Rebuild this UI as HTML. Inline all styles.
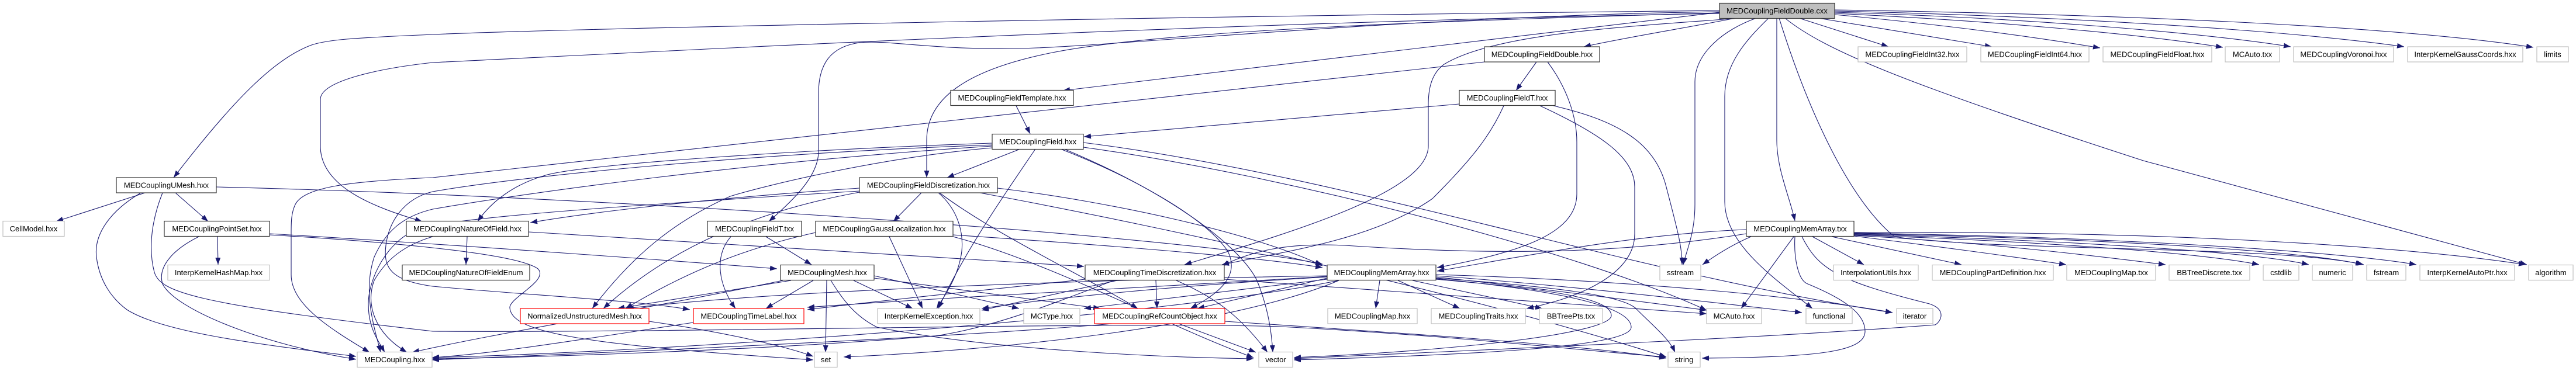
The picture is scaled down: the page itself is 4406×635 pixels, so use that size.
<!DOCTYPE html>
<html>
<head>
<meta charset="utf-8">
<style>
html,body{margin:0;padding:0;background:#fff;}
svg{display:block;}
text{font-family:"Liberation Sans",Arial,sans-serif;font-size:13px;fill:#000;text-anchor:middle;}
.e{fill:none;stroke:#191970;stroke-width:1.1;marker-end:url(#a);}
.n{fill:#fff;stroke:#333;stroke-width:1.2;}
.g{fill:#fff;stroke:#bfbfbf;stroke-width:1.2;}
.r{fill:#fff;stroke:#ff0000;stroke-width:1.2;}
.t{fill:#bfbfbf;stroke:#333;stroke-width:1.2;}
</style>
</head>
<body>
<svg width="4406" height="635" viewBox="0 0 4406 635" xmlns="http://www.w3.org/2000/svg">
<defs>
<marker id="a" markerWidth="12" markerHeight="9" refX="12" refY="4.5" orient="auto" markerUnits="userSpaceOnUse">
<path d="M0,0 L12,4.5 L0,9 z" fill="#191970"/>
</marker>
</defs>
<rect width="4406" height="635" fill="#fff"/>
<g>
<!-- FD_CXX edges -->
<path class="e" d="M2968,31 C2900,45 2780,64 2709,80"/>
<path class="e" d="M3077,31 L3230,80"/>
<path class="e" d="M3110,31 L3407,80"/>
<path class="e" d="M3138,25 C3300,40 3460,60 3592,82"/>
<path class="e" d="M3138,23 C3400,35 3660,58 3802,81"/>
<path class="e" d="M3138,21 C3450,30 3760,55 3918,80"/>
<path class="e" d="M3138,19 C3500,27 3900,50 4112,80"/>
<path class="e" d="M3138,17 C3650,25 4100,45 4333,81"/>
<path class="e" d="M3039,31 L3039,240 C3039,290 3062,340 3070,378"/>
<path class="e" d="M3025,31 C2985,70 2950,110 2950,165 L2950,345 C2950,420 3040,480 3100,528"/>
<path class="e" d="M3004,31 C2950,50 2899,90 2899,140 L2899,350 C2899,400 2884,430 2879,453"/>
<path class="e" d="M2975,31 C2800,45 2560,55 2470,110 C2445,128 2443,160 2443,180 L2443,250 C2443,330 2200,400 2026,453"/>
<path class="e" d="M3053,31 C3120,85 3250,140 3666,275 L4322,453"/>
<path class="e" d="M3043,31 C3080,150 3150,330 3240,405 C3400,430 3900,420 4043,453"/>
<path class="e" d="M2941,18 C2000,28 1000,48 740,59 C600,65 560,68 533,77 C470,100 400,170 297,304"/>
<path class="e" d="M2941,23 C2000,40 1100,90 740,107 C640,118 548,140 548,170 L548,250 C548,320 640,355 722,379"/>
<path class="e" d="M2941,20 C2400,28 1900,80 1743,83 C1600,86 1520,68 1470,73 C1420,80 1400,110 1400,160 L1400,259 C1400,300 1360,340 1315,379"/>
<path class="e" d="M2941,21 L1818,155"/>
<path class="e" d="M2941,22 C2500,35 2000,50 1800,90 C1650,120 1585,170 1585,240 L1585,304"/>
<!-- FieldDouble.hxx -->
<path class="e" d="M2628,106 L2593,155"/>
<path class="e" d="M2647,106 C2680,150 2697,200 2697,243 L2697,332 C2697,400 2600,432 2458,458"/>
<path class="e" d="M2539,106 L740,304 C600,310 520,320 505,350 C498,365 498,380 498,400 L498,470 C498,520 560,560 632,603"/>
<!-- FieldTemplate -->
<path class="e" d="M1738,181 L1762,229"/>
<!-- FieldT.hxx -->
<path class="e" d="M2496,178 L1854,234"/>
<path class="e" d="M2634,181 C2740,230 2796,270 2796,320 L2796,400 C2796,470 2700,510 2611,528"/>
<path class="e" d="M2657,181 C2760,205 2830,240 2850,320 C2868,390 2877,420 2877,453"/>
<path class="e" d="M2572,181 C2550,230 2520,270 2450,340 C2350,410 2200,430 2090,453"/>
<!-- Field.hxx -->
<path class="e" d="M1745,255 L1620,304"/>
<path class="e" d="M1697,245 C1400,255 1000,280 933,300 C880,315 840,345 817,379"/>
<path class="e" d="M1771,255 C1720,330 1650,430 1605,528"/>
<path class="e" d="M1814,255 C1930,300 2060,370 2100,430 C2120,470 2090,500 2036,528"/>
<path class="e" d="M1697,250 C1300,275 900,330 740,358 C690,370 660,395 640,440 C620,500 640,560 651,603"/>
<path class="e" d="M1697,248 C1300,262 900,300 740,328 C690,340 665,380 660,420 C655,460 670,480 740,490 C900,505 1100,515 1180,530"/>
<path class="e" d="M1697,253 C1500,270 1300,320 1249,336 C1150,380 1080,440 1013,528"/>
<path class="e" d="M1853,252 C2200,300 2700,430 2919,531"/>
<path class="e" d="M1853,244 C2300,300 2800,470 3237,535"/>
<path class="e" d="M1820,255 C2000,330 2120,420 2150,480 C2170,530 2175,570 2177,603"/>
<!-- FieldDiscretization -->
<path class="e" d="M1576,330 L1528,379"/>
<path class="e" d="M1470,322 C1200,340 1000,365 907,381"/>
<path class="e" d="M1605,330 C1640,360 1648,400 1645,430 C1640,470 1620,500 1602,528"/>
<path class="e" d="M1607,330 C1700,400 1850,470 1946,528"/>
<path class="e" d="M1470,327 C1100,350 800,370 720,390 C660,410 630,480 630,520 C630,560 645,580 658,603"/>
<path class="e" d="M1470,329 C1300,360 1150,420 1032,528"/>
<path class="e" d="M1706,322 C1900,345 2150,400 2262,455"/>
<path class="e" d="M1676,330 C2000,390 2500,500 2850,611"/>
<!-- GaussLocalization -->
<path class="e" d="M1521,405 L1578,528"/>
<path class="e" d="M1630,402 C1900,420 2150,440 2262,458"/>
<path class="e" d="M1395,398 C1250,430 1150,480 1070,528"/>
<path class="e" d="M1630,405 C1800,450 2000,560 2144,612"/>
<!-- MEDCouplingMesh -->
<path class="e" d="M1414,480 L1412,603"/>
<path class="e" d="M1391,480 L1310,528"/>
<path class="e" d="M1353,480 L1056,528"/>
<path class="e" d="M1339,480 C1100,530 850,570 705,603"/>
<path class="e" d="M1460,480 L1561,528"/>
<path class="e" d="M1495,472 L1743,528"/>
<path class="e" d="M1495,476 L1882,528"/>
<path class="e" d="M1421,480 C1440,510 1460,540 1500,560 C1700,600 2000,612 2144,614"/>
<!-- TimeDiscretization -->
<path class="e" d="M1977,480 L1979,528"/>
<path class="e" d="M1911,480 L1679,531"/>
<path class="e" d="M2012,480 C2080,510 2120,540 2168,603"/>
<path class="e" d="M1856,478 C1700,495 1500,515 1381,530"/>
<path class="e" d="M1905,480 C1800,520 1700,560 1600,575 C1300,600 900,612 739,614"/>
<path class="e" d="M2094,478 C2400,500 2700,520 2919,537"/>
<!-- FieldT.txx -->
<path class="e" d="M1310,405 L1388,453"/>
<path class="e" d="M1250,405 C1220,440 1230,490 1258,528"/>
<!-- NatureOfField -->
<path class="e" d="M799,405 L797,453"/>
<path class="e" d="M904,397 C1300,420 1700,445 1854,456"/>
<path class="e" d="M740,405 C690,420 660,445 640,480 C625,520 640,570 696,603"/>
<!-- PointSet -->
<path class="e" d="M372,405 L373,453"/>
<path class="e" d="M340,405 C290,430 270,460 278,486 C300,530 450,590 609,615"/>
<path class="e" d="M461,400 C800,420 1200,450 1329,460"/>
<path class="e" d="M461,402 C600,410 880,430 920,460 C940,480 870,510 872,527 C875,570 1000,590 1391,616"/>
<!-- UMesh -->
<path class="e" d="M248,330 L96,379"/>
<path class="e" d="M300,330 L356,379"/>
<path class="e" d="M241,330 C190,360 160,400 165,440 C170,480 190,510 217,530 C280,570 450,590 609,610"/>
<path class="e" d="M278,330 C262,370 252,420 264,466 C275,500 330,520 740,567 C1200,570 1900,550 2190,559 C2500,575 2700,600 2850,611"/>
<path class="e" d="M370,320 C1000,335 2000,400 2262,452"/>
<!-- MemArray.hxx -->
<path class="e" d="M2360,480 L2353,528"/>
<path class="e" d="M2391,480 L2497,528"/>
<path class="e" d="M2416,480 L2638,528"/>
<path class="e" d="M2270,478 L1854,528"/>
<path class="e" d="M2270,474 C2000,490 1800,510 1679,528"/>
<path class="e" d="M2270,476 L2048,528"/>
<path class="e" d="M2270,472 C1800,480 1300,500 1072,528"/>
<path class="e" d="M2270,473 C2000,490 1600,510 1381,526"/>
<path class="e" d="M2290,480 C2000,540 1200,600 739,612"/>
<path class="e" d="M2456,474 C2600,490 2800,515 2919,531"/>
<path class="e" d="M2456,476 C2650,490 2780,505 2800,530 C2830,560 2855,580 2865,603"/>
<path class="e" d="M2456,478 C2650,495 2756,510 2756,540 C2756,570 2500,600 2213,612"/>
<path class="e" d="M2456,472 C2700,490 2950,520 3082,535"/>
<path class="e" d="M2456,470 C2800,480 3100,510 3237,535"/>
<path class="e" d="M2290,480 C2100,560 1700,600 1443,611"/>
<path class="e" d="M2456,477 C2700,500 2790,530 2790,560 C2790,595 2500,608 2213,616"/>
<!-- MemArray.txx -->
<path class="e" d="M2987,393 C2800,400 2600,440 2458,464"/>
<path class="e" d="M3100,405 L3188,453"/>
<path class="e" d="M3133,405 L3355,453"/>
<path class="e" d="M3171,404 C3300,420 3450,440 3534,453"/>
<path class="e" d="M3171,403 C3400,415 3600,440 3704,453"/>
<path class="e" d="M3171,402 C3450,412 3750,430 3864,453"/>
<path class="e" d="M3171,401 C3500,410 3850,430 3949,453"/>
<path class="e" d="M3171,400 C3600,408 3950,430 4041,453"/>
<path class="e" d="M3171,399 C3600,405 4000,430 4133,453"/>
<path class="e" d="M3171,398 C3700,395 4100,420 4320,453"/>
<path class="e" d="M3068,405 L2978,528"/>
<path class="e" d="M3070,405 C3068,440 3075,480 3092,486 C3150,510 3190,535 3190,567 C3190,600 3120,612 2911,613"/>
<path class="e" d="M3082,405 C3110,460 3140,480 3300,520 C3330,530 3320,550 3310,556 C3000,580 2500,600 2213,614"/>
<path class="e" d="M2995,405 C2960,420 2930,440 2912,453"/>
<path class="e" d="M2987,400 C2800,430 2600,440 2300,420 C2200,415 2140,430 2090,455"/>
<!-- red nodes -->
<path class="e" d="M1186,552 C1000,580 850,605 739,612"/>
<path class="e" d="M2016,554 L2148,603"/>
<path class="e" d="M1903,554 C1600,580 1000,605 739,616"/>
<path class="e" d="M2095,550 C2400,570 2700,590 2850,613"/>
<path class="e" d="M1110,550 C1250,570 1350,595 1391,610"/>
</g>
<g>
<!-- Row 0 -->
<rect class="t" x="2941" y="5.5" width="197" height="26"/><text x="3039.5" y="23">MEDCouplingFieldDouble.cxx</text>
<!-- Row 1 -->
<rect class="n" x="2539" y="80" width="197" height="26"/><text x="2637.5" y="97.7">MEDCouplingFieldDouble.hxx</text>
<rect class="g" x="3178" y="80" width="186" height="26"/><text x="3271" y="97.7">MEDCouplingFieldInt32.hxx</text>
<rect class="g" x="3388" y="80" width="185" height="26"/><text x="3480.5" y="97.7">MEDCouplingFieldInt64.hxx</text>
<rect class="g" x="3597" y="80" width="186" height="26"/><text x="3690" y="97.7">MEDCouplingFieldFloat.hxx</text>
<rect class="g" x="3806" y="80" width="93" height="26"/><text x="3852.5" y="97.7">MCAuto.txx</text>
<rect class="g" x="3923" y="80" width="171" height="26"/><text x="4008.5" y="97.7">MEDCouplingVoronoi.hxx</text>
<rect class="g" x="4118" y="80" width="197" height="26"/><text x="4216.5" y="97.7">InterpKernelGaussCoords.hxx</text>
<rect class="g" x="4339" y="80" width="54" height="26"/><text x="4366" y="97.7">limits</text>
<!-- Row 2 -->
<rect class="n" x="1626" y="154.5" width="210" height="26"/><text x="1731" y="172.2">MEDCouplingFieldTemplate.hxx</text>
<rect class="n" x="2496" y="154.5" width="164" height="26"/><text x="2578" y="172.2">MEDCouplingFieldT.hxx</text>
<!-- Row 3 -->
<rect class="n" x="1697" y="229.5" width="156" height="26"/><text x="1775" y="247.2">MEDCouplingField.hxx</text>
<!-- Row 4 -->
<rect class="n" x="199" y="304" width="171" height="26"/><text x="284.5" y="321.7">MEDCouplingUMesh.hxx</text>
<rect class="n" x="1470" y="304" width="236" height="26"/><text x="1588" y="321.7">MEDCouplingFieldDiscretization.hxx</text>
<!-- Row 5 -->
<rect class="g" x="5" y="378.5" width="105" height="26"/><text x="57.5" y="396.2">CellModel.hxx</text>
<rect class="n" x="281" y="378.5" width="180" height="26"/><text x="371" y="396.2">MEDCouplingPointSet.hxx</text>
<rect class="n" x="695" y="378.5" width="209" height="26"/><text x="799.5" y="396.2">MEDCouplingNatureOfField.hxx</text>
<rect class="n" x="1210" y="378.5" width="161" height="26"/><text x="1290.5" y="396.2">MEDCouplingFieldT.txx</text>
<rect class="n" x="1395" y="378.5" width="235" height="26"/><text x="1512.5" y="396.2">MEDCouplingGaussLocalization.hxx</text>
<rect class="n" x="2987" y="378.5" width="184" height="26"/><text x="3079" y="396.2">MEDCouplingMemArray.txx</text>
<!-- Row 6 -->
<rect class="g" x="287" y="453.5" width="174" height="26"/><text x="374" y="471.2">InterpKernelHashMap.hxx</text>
<rect class="n" x="688" y="453.5" width="218" height="26"/><text x="797" y="471.2">MEDCouplingNatureOfFieldEnum</text>
<rect class="n" x="1335" y="453.5" width="160" height="26"/><text x="1415" y="471.2">MEDCouplingMesh.hxx</text>
<rect class="n" x="1856" y="453.5" width="238" height="26"/><text x="1975" y="471.2">MEDCouplingTimeDiscretization.hxx</text>
<rect class="n" x="2270" y="453.5" width="186" height="26"/><text x="2363" y="471.2">MEDCouplingMemArray.hxx</text>
<rect class="g" x="2839" y="453.5" width="70" height="26"/><text x="2874" y="471.2">sstream</text>
<rect class="g" x="3136" y="453.5" width="145" height="26"/><text x="3208.5" y="471.2">InterpolationUtils.hxx</text>
<rect class="g" x="3305" y="453.5" width="207" height="26"/><text x="3408.5" y="471.2">MEDCouplingPartDefinition.hxx</text>
<rect class="g" x="3535" y="453.5" width="152" height="26"/><text x="3611" y="471.2">MEDCouplingMap.txx</text>
<rect class="g" x="3710" y="453.5" width="138" height="26"/><text x="3779" y="471.2">BBTreeDiscrete.txx</text>
<rect class="g" x="3871" y="453.5" width="61" height="26"/><text x="3901.5" y="471.2">cstdlib</text>
<rect class="g" x="3955" y="453.5" width="69" height="26"/><text x="3989.5" y="471.2">numeric</text>
<rect class="g" x="4048" y="453.5" width="67" height="26"/><text x="4081.5" y="471.2">fstream</text>
<rect class="g" x="4139" y="453.5" width="162" height="26"/><text x="4220" y="471.2">InterpKernelAutoPtr.hxx</text>
<rect class="g" x="4325" y="453.5" width="76" height="26"/><text x="4363" y="471.2">algorithm</text>
<!-- Row 7 -->
<rect class="r" x="890" y="528" width="220" height="26"/><text x="1000" y="545.7">NormalizedUnstructuredMesh.hxx</text>
<rect class="r" x="1186" y="528" width="189" height="26"/><text x="1280.5" y="545.7">MEDCouplingTimeLabel.hxx</text>
<rect class="g" x="1501" y="528" width="175" height="26"/><text x="1588.5" y="545.7">InterpKernelException.hxx</text>
<rect class="g" x="1751" y="528" width="96" height="26"/><text x="1799" y="545.7">MCType.hxx</text>
<rect class="r" x="1872" y="528" width="223" height="26"/><text x="1983.5" y="545.7">MEDCouplingRefCountObject.hxx</text>
<rect class="g" x="2271" y="528" width="153" height="26"/><text x="2347.5" y="545.7">MEDCouplingMap.hxx</text>
<rect class="g" x="2448" y="528" width="161" height="26"/><text x="2528.5" y="545.7">MEDCouplingTraits.hxx</text>
<rect class="g" x="2633" y="528" width="108" height="26"/><text x="2687" y="545.7">BBTreePts.txx</text>
<rect class="g" x="2919" y="528" width="94" height="26"/><text x="2966" y="545.7">MCAuto.hxx</text>
<rect class="g" x="3089" y="528" width="79" height="26"/><text x="3128.5" y="545.7">functional</text>
<rect class="g" x="3244" y="528" width="62" height="26"/><text x="3275" y="545.7">iterator</text>
<!-- Row 8 -->
<rect class="g" x="611" y="602.5" width="128" height="26"/><text x="675" y="620.2">MEDCoupling.hxx</text>
<rect class="g" x="1393" y="602.5" width="39" height="26"/><text x="1412.5" y="620.2">set</text>
<rect class="g" x="2153" y="602.5" width="58" height="26"/><text x="2182" y="620.2">vector</text>
<rect class="g" x="2853" y="602.5" width="55" height="26"/><text x="2880.5" y="620.2">string</text>
</g>
</svg>
</body>
</html>
